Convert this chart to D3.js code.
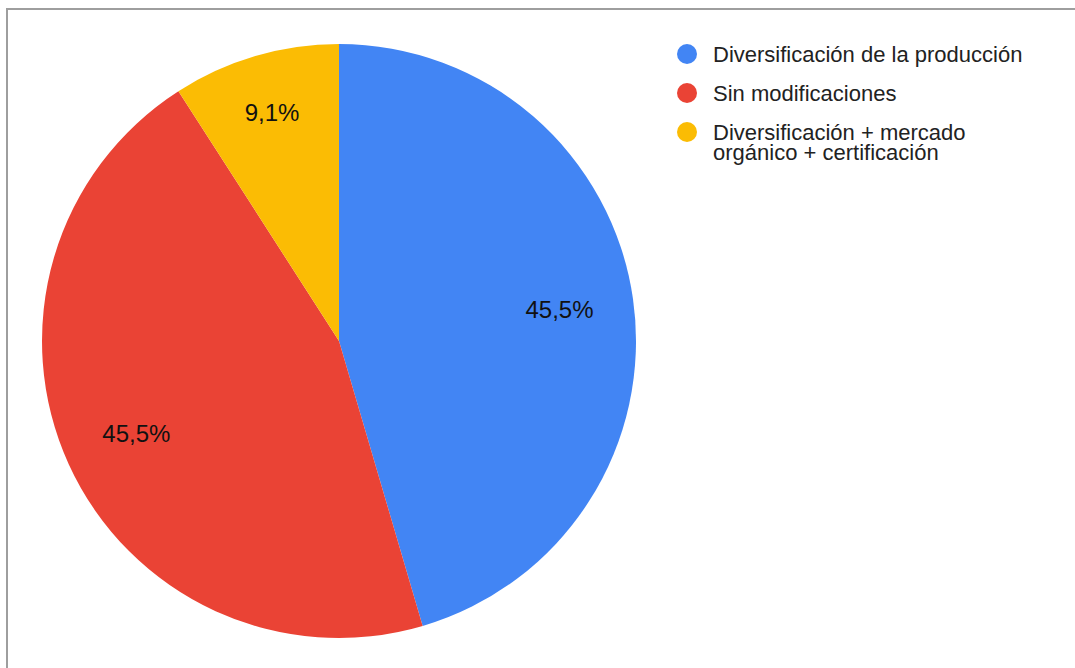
<!DOCTYPE html>
<html>
<head>
<meta charset="utf-8">
<script src="https://cdn.jsdelivr.net/npm/d3@7"></script>
<style>
  html, body { margin: 0; padding: 0; background: #fff; }
  svg { display: block; font-family: "Liberation Sans", Arial, sans-serif; }
</style>
</head>
<body>
<div id="chart"></div>
<script>
const categories = [
    "Diversificación de la producción",
    "Sin modificaciones",
    "Diversificación + mercado orgánico + certificación",
];
const values = [5, 5, 1];
const colors = ["#4285F4", "#EA4335", "#FBBC04"];

const width = 1075;
const height = 668;
const cx = 339, cy = 341, radius = 297;

const svg = d3.select("#chart")
    .append("svg")
    .attr("width", width)
    .attr("height", height);

// marco gris (sólo arriba e izquierda son visibles)
svg.append("rect")
    .attr("x", 7)
    .attr("y", 9)
    .attr("width", width + 20)
    .attr("height", height + 20)
    .attr("fill", "#fff")
    .attr("stroke", "#9e9e9e")
    .attr("stroke-width", 2);

const total = d3.sum(values);
const pie = d3.pie().sort(null).value((d) => d)(values);
const arc = d3.arc().innerRadius(0).outerRadius(radius);

const g = svg.append("g").attr("transform", `translate(${cx},${cy})`);

g.selectAll("path")
    .data(pie)
    .join("path")
    .attr("d", arc)
    .attr("fill", (d, i) => colors[i]);

const fmt = (v) => (Math.round((v / total) * 1000) / 10).toFixed(1).replace(".", ",") + "%";

g.selectAll("text.lbl")
    .data(pie)
    .join("text")
    .attr("class", "lbl")
    .attr("transform", (d) => {
        const a = (d.startAngle + d.endAngle) / 2;
        // porciones angostas: la etiqueta va un poco más afuera
        const r = d.endAngle - d.startAngle < 0.8 ? radius * 0.8 : radius * 0.75;
        return `translate(${Math.sin(a) * r},${-Math.cos(a) * r})`;
    })
    .attr("text-anchor", "middle")
    .attr("dy", "0.35em")
    .attr("font-size", 24)
    .attr("fill", "#111")
    .text((d) => fmt(d.value));

// leyenda
const legend = svg.append("g").attr("transform", "translate(687, 0)");
const rowY = [54, 93, 132];
const maxTextWidth = 320;

categories.forEach((name, i) => {
    const item = legend.append("g").attr("transform", `translate(0, ${rowY[i]})`);
    item.append("circle").attr("r", 10).attr("fill", colors[i]);

    const text = item.append("text")
        .attr("x", 26)
        .attr("y", 7.5)
        .attr("font-size", 22)
        .attr("fill", "#222");

    const words = name.split(" ");
    let line = [];
    let lineNo = 0;
    let tspan = text.append("tspan").attr("x", 26).attr("dy", 0);
    words.forEach((w) => {
        line.push(w);
        tspan.text(line.join(" "));
        if (tspan.node().getComputedTextLength() > maxTextWidth && line.length > 1) {
            line.pop();
            tspan.text(line.join(" "));
            line = [w];
            lineNo++;
            tspan = text.append("tspan").attr("x", 26).attr("dy", 20).text(w);
        }
    });
});
</script>
</body>
</html>
